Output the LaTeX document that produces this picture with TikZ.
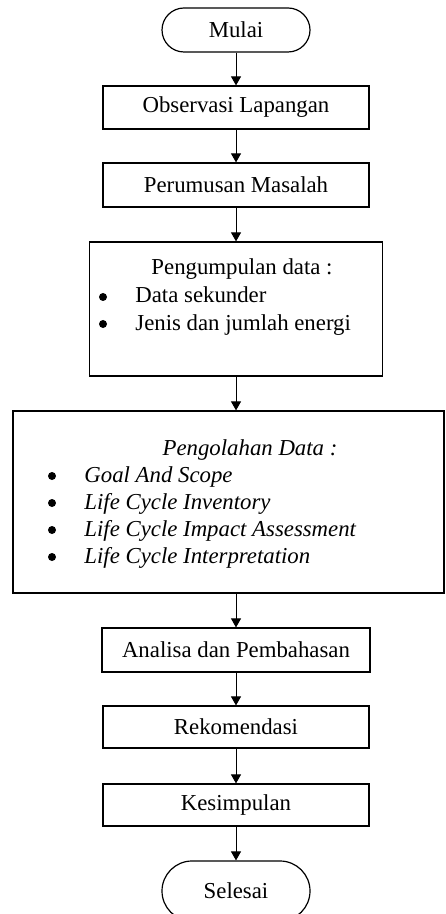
\documentclass[tikz,border=0pt]{standalone}
\usepackage{fontspec}
\setmainfont{Liberation Serif}
\usetikzlibrary{arrows.meta}

\begin{document}
\begin{tikzpicture}[x=0.5pt,y=-0.5pt,
  box/.style={draw,line width=0.6pt,inner sep=0pt,font=\fontsize{11.4}{13.7}\selectfont},
  term/.style={box,rounded corners=11pt},
  flow/.style={-{Triangle[length=4.5pt,width=5pt]},line width=0.5pt},
  dot/.style={circle,fill,inner sep=0pt,minimum size=4pt},
  txt/.style={anchor=base west,inner sep=0pt,font=\fontsize{11.4}{13.7}\selectfont}]
\useasboundingbox (0,0) rectangle (445,914);
% start and simple steps
\node[term,minimum width=74pt,minimum height=22pt] (mulai) at (236,30) {Mulai};
\node[box,minimum width=133pt,minimum height=21.5pt] (observasi) at (236,107.5) {Observasi Lapangan};
\node[box,minimum width=133pt,minimum height=22pt] (perumusan) at (236,185) {Perumusan Masalah};
% data collection
\node[box,minimum width=146.5pt,minimum height=67pt] (kumpul) at (236,309) {};
\node[txt,anchor=base] (kumpulJudul) at (242,275) {Pengumpulan data :};
\foreach \y/\t [count=\i] in {303/Data sekunder,330/Jenis dan jumlah energi}{
  \node[dot] (kumpulB\i) at (103,\y-6) {};
  \node[txt] (kumpulT\i) at (135,\y) {\t};
}
% data processing
\node[box,minimum width=215.5pt,minimum height=91pt] (olah) at (228.5,502) {};
\node[txt,anchor=base] (olahJudul) at (250,455) {\itshape Pengolahan Data :};
\foreach \y/\t [count=\i] in {482/Goal And Scope,509/Life Cycle Inventory,536/Life Cycle Impact Assessment,563/Life Cycle Interpretation}{
  \node[dot] (olahB\i) at (52,\y-6) {};
  \node[txt] (olahT\i) at (84,\y) {\itshape\t};
}
% remaining steps
\node[box,minimum width=134pt,minimum height=22pt] (analisa) at (236,650) {Analisa dan Pembahasan};
\node[box,minimum width=133pt,minimum height=21pt] (rekomendasi) at (236,727) {Rekomendasi};
\node[box,minimum width=133pt,minimum height=21pt] (kesimpulan) at (236,805) {Kesimpulan};
\node[term,rounded corners=15pt,minimum width=74pt,minimum height=30pt] (selesai) at (236,891) {Selesai};
% arrows
\draw[flow] (mulai) -- (observasi);
\draw[flow] (observasi) -- (perumusan);
\draw[flow] (perumusan) -- (kumpul);
\draw[flow] (kumpul.south) -- (kumpul.south |- olah.north);
\draw[flow] (analisa.north |- olah.south) -- (analisa);
\draw[flow] (analisa) -- (rekomendasi);
\draw[flow] (rekomendasi) -- (kesimpulan);
\draw[flow] (kesimpulan) -- (selesai);
\end{tikzpicture}
\end{document}
